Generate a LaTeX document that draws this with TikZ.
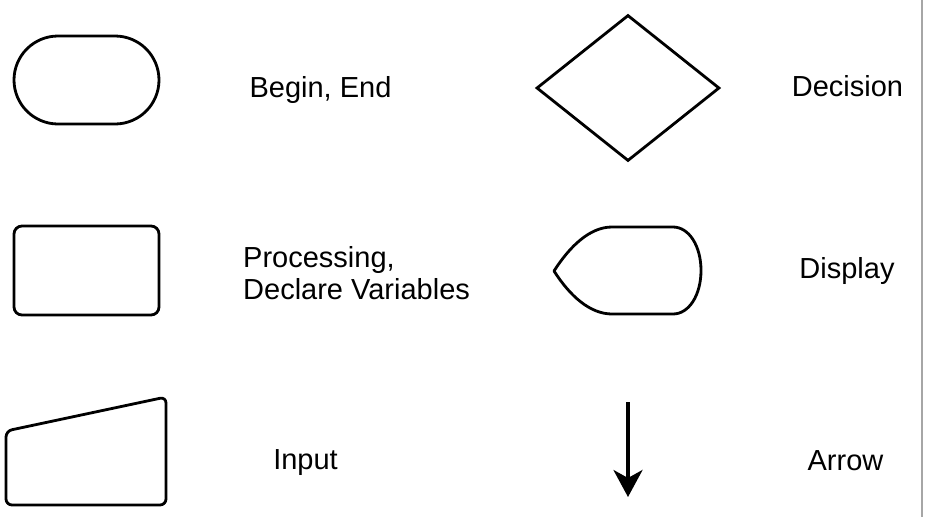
\documentclass[tikz,border=0pt]{standalone}
\usepackage{fontspec}
\setmainfont{Liberation Sans}
\usepackage{tikz}
\usepackage{xcolor}
\usetikzlibrary{positioning,shapes.geometric,shapes.misc,arrows.meta}
\tikzset{
  basic/.style    = {draw, line width=2.8pt, inner sep=0pt},
  terminal/.style = {basic, rounded rectangle, minimum width=145pt,
                     minimum height=88pt},
  procbox/.style  = {basic, rectangle, rounded corners=8pt,
                     minimum width=145pt, minimum height=89pt},
  decision/.style = {basic, diamond, minimum width=183pt,
                     minimum height=146pt},
  outline/.style  = {line width=2.8pt, line join=round},
  legend/.style   = {font=\fontsize{29}{32}\selectfont, inner sep=0pt}
}

\begin{document}
\begin{tikzpicture}[x=1pt, y=-1pt, >=Stealth]
\useasboundingbox (0,0) rectangle (927,517);

% left column, the symbols
\node[terminal] (term) at (86.5,80) {};
\node[procbox]  (proc) at (86.5,270.5) {};
\coordinate (inbl) at (6,505);
\coordinate (intl) at (6,431);
\coordinate (intr) at (166,397);
\coordinate (inbr) at (166,505);
\draw[outline, rounded corners=6pt] (inbl) -- (intl) -- (intr) -- (inbr) -- cycle;

% right column, the symbols
\node[decision] (dec) at (628,88) {};
\coordinate (dsptip) at (554,271);
\coordinate (dsptl)  at (612,227);
\coordinate (dsptr)  at (673,227);
\coordinate (dspbr)  at (673,314);
\coordinate (dspbl)  at (612,314);
\draw[outline] (dsptip) .. controls (570,246) and (590,227) .. (dsptl)
  -- (dsptr) .. controls (689,227) and (701,246) .. (701,270.5)
  .. controls (701,295) and (689,314) .. (dspbr)
  -- (dspbl) .. controls (590,314) and (570,296) .. (dsptip) -- cycle;
\coordinate (arrtop) at (628,402);
\coordinate (arrtip) at (628,497);
\draw[line width=3.6pt, -{Stealth[length=27pt, width=29pt, inset=8pt]}] (arrtop) -- (arrtip);

% the texts, beside each symbol
\begin{scope}[every node/.style={legend}]
\node[anchor=base] (tterm) at (320.5,97) {Begin, End};
\node[anchor=north west, align=left] (tproc) at (243,246) {Processing,\\Declare Variables};
\node[anchor=base] (tin) at (305.5,469) {Input};
\node[anchor=base] (tdec) at (847.5,96) {Decision};
\node[anchor=base] (tdsp) at (847,278) {Display};
\node[anchor=base] (tarr) at (845.5,470) {Arrow};
\end{scope}

% frame edge on the right
\draw[line width=2pt, black!35] (922,0) -- (922,517);
\end{tikzpicture}
\end{document}
